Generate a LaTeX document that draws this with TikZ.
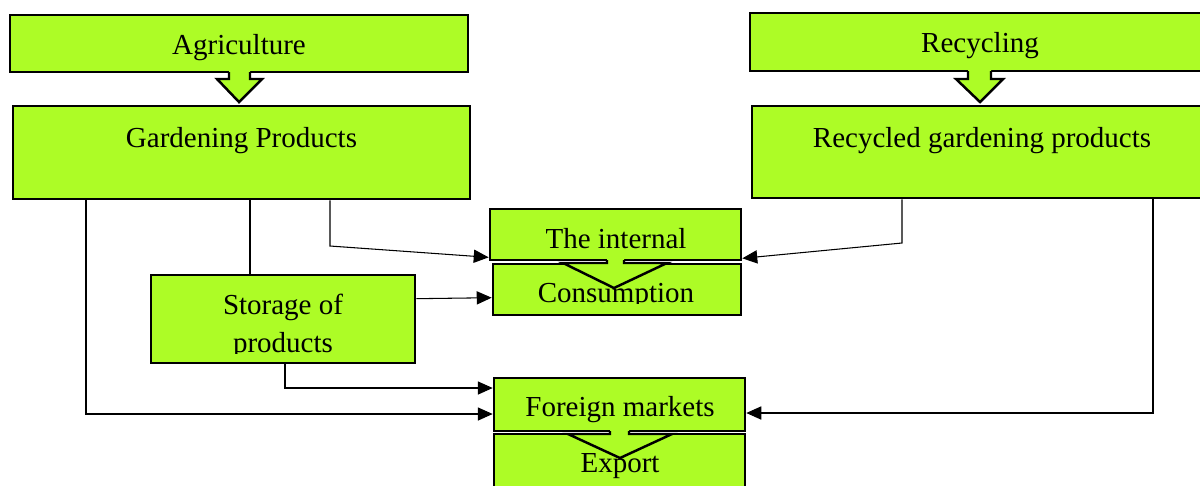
\documentclass[tikz,border=0pt]{standalone}
\usepackage{fontspec}
\setmainfont{Liberation Serif}
\usetikzlibrary{arrows.meta,fit,calc}
\definecolor{lime}{RGB}{173,252,38}
\begin{document}
\begin{tikzpicture}[x=0.02cm,y=-0.02cm,
  box/.style={draw=black,line width=1.5pt,fill=lime,inner sep=0pt},
  txt/.style={font=\fontsize{16.5}{19}\selectfont,anchor=base,inner sep=0pt},
  conn/.style={line width=0.6pt,-{Triangle[length=8.5pt,width=7.5pt]}},
  link/.style={line width=0.6pt},
  blk/.style={fill=lime},
  blkline/.style={line width=1.4pt,line join=miter}]
\useasboundingbox (0,0) rectangle (1200,485);
% boxes
\node[box,fit={(10,15) (468,72)}] (ag) {};
\node[box,fit={(13,106) (470,199)}] (gp) {};
\node[box,fit={(750,13) (1212,71)}] (rc) {};
\node[box,fit={(752,106) (1212,198)}] (rg) {};
\node[box,fit={(490,209) (741,260)}] (ti) {};
\node[box,fit={(493,264) (741,315)}] (cs) {};
\node[box,fit={(151,275) (415,363)}] (st) {};
\node[box,fit={(494,378) (745,431)}] (fm) {};
\node[box,fit={(494,434) (745,497)}] (ex) {};
% block arrows
\fill[blk] (229,70) -- (229,79) -- (217,79) -- (239,102) -- (262,79) -- (250,79) -- (250,70) -- cycle;
\draw[blkline] (229,72) -- (229,79) -- (217,79) -- (239,102) -- (262,79) -- (250,79) -- (250,72);
\fill[blk] (968,69) -- (968,79) -- (956,79) -- (980,102) -- (1003,79) -- (991,79) -- (991,69) -- cycle;
\draw[blkline] (968,71) -- (968,79) -- (956,79) -- (980,102) -- (1003,79) -- (991,79) -- (991,71);
\fill[blk] (607,258) -- (607,263) -- (563,263) -- (614,288) -- (667,263) -- (624,263) -- (624,258) -- cycle;
\draw[blkline] (607,260) -- (607,263) -- (563,263) -- (614,288) -- (667,263) -- (624,263) -- (624,260);
\fill[blk] (610,429) -- (610,434) -- (568,434) -- (620,458) -- (672,434) -- (629,434) -- (629,429) -- cycle;
\draw[blkline] (610,431) -- (610,434) -- (568,434) -- (620,458) -- (672,434) -- (629,434) -- (629,431);
% texts
\node[txt] (tag) at (239,54) {Agriculture};
\node[txt] (tgp) at (241.5,147) {Gardening Products};
\node[txt] (trc) at (980,52) {Recycling};
\node[txt] (trg) at (982,147) {Recycled gardening products};
\node[txt] (tti) at (616,248) {The internal};
\begin{scope}
  \clip (480,270) rectangle (760,303);
  \node[txt] (tcs) at (616,302) {Consumption};
\end{scope}
\node[txt] (tst) at (283,314) {Storage of};
\begin{scope}
  \clip (150,320) rectangle (420,353);
  \node[txt] (tpr) at (283,352) {products};
\end{scope}
\node[txt] (tfm) at (620,416) {Foreign markets};
\node[txt] (tex) at (620,472) {Export};
% connectors
\coordinate (b1) at (330,246);
\coordinate (b2) at (902,243);
\coordinate (b3) at (285,388);
\coordinate (b4) at (86,414);
\coordinate (b5) at (1153,413);
\coordinate (v1) at (250,0);
\draw[conn] (gp.south -| b1) -- (b1) -- ($(ti.south west)+(0,-4)$);
\draw[conn] (rg.south -| b2) -- (b2) -- ($(ti.south east)+(0,-3)$);
\draw[link] (gp.south -| v1) -- (st.north -| v1);
\draw[conn] ($(st.north east)+(0,25)$) -- ($(cs.north west)+(0,35)$);
\draw[conn] (st.south -| b3) -- (b3) -- (fm.west |- b3);
\draw[conn] (gp.south -| b4) -- (b4) -- (fm.west |- b4);
\draw[conn] (rg.south -| b5) -- (b5) -- (fm.east |- b5);
\end{tikzpicture}
\end{document}
